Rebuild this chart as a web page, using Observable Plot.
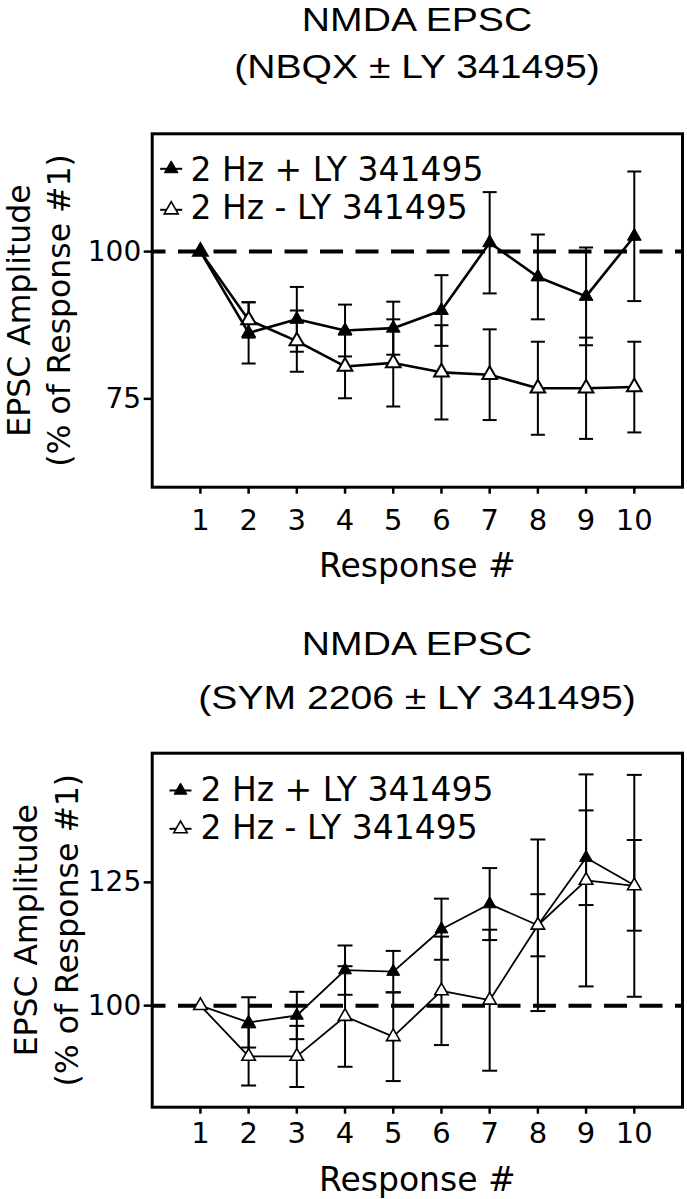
<!DOCTYPE html>
<html><head><meta charset="utf-8">
<script src="https://cdn.jsdelivr.net/npm/d3@7"></script>
<script src="https://cdn.jsdelivr.net/npm/@observablehq/plot@0.6"></script>
<style>
body{margin:0;background:#fff;}
#root{position:relative;width:687px;height:1199px;overflow:hidden;font-family:"DejaVu Sans",sans-serif;color:#000;background:#fff}
.title{position:absolute;left:152px;width:530px;text-align:center;font-family:"Liberation Sans",Arial,sans-serif;font-size:34px;line-height:30px;height:30px;white-space:nowrap;transform:scaleX(1.15);transform-origin:50% 50%}
.panel{position:absolute;left:0}
</style></head><body><div id="root"></div>
<script>
// ---- data ----
const responses = [1, 2, 3, 4, 5, 6, 7, 8, 9, 10];
const seriesWith = "2 Hz + LY 341495";
const seriesWithout = "2 Hz - LY 341495";
const xLabel = "Response #";
const yLabel = "EPSC Amplitude\n(% of Response #1)";

// Panel A: NMDA EPSC (NBQX ± LY 341495)
const titleA = ["NMDA EPSC", "(NBQX \u00B1 LY 341495)"];
const nbqxWithMean    = [100, 86.2, 88.5, 86.6, 87.0, 90.0, 101.5, 95.7, 92.4, 102.6];
const nbqxWithSem     = [0, 5.2, 5.5, 4.4, 4.5, 6.0, 8.6, 7.2, 8.3, 11.0];
const nbqxWithoutMean = [100, 88.4, 84.8, 80.5, 81.1, 79.5, 79.1, 76.8, 76.8, 77.0];
const nbqxWithoutSem  = [0, 3.0, 5.2, 5.4, 7.4, 8.0, 7.7, 7.9, 8.6, 7.7];
const yTicksA = [75, 100];

// Panel B: NMDA EPSC (SYM 2206 ± LY 341495)
const titleB = ["NMDA EPSC", "(SYM 2206 \u00B1 LY 341495)"];
const symWithMean    = [100, 96.6, 98.0, 107.2, 106.9, 115.5, 120.6, 116.3, 130.0, 124.4];
const symWithSem     = [0, 5.1, 4.8, 5.0, 4.2, 6.2, 7.3, 6.3, 9.6, 9.2];
const symWithoutMean = [100, 89.7, 89.7, 97.8, 93.7, 103.0, 101.1, 116.3, 125.4, 124.3];
const symWithoutSem  = [0, 5.9, 6.2, 10.2, 9.0, 11.0, 14.3, 17.4, 21.5, 22.5];
const yTicksB = [100, 125];
const baseline = [100];

// ---- helpers ----
const rows = (means, sems, series) => responses.map((r, i) => ({response: r, mean: means[i], sem: sems[i], series}));
const capSymbol = (half) => ({draw(ctx) { ctx.moveTo(-half, 0); ctx.lineTo(half, 0); }});
const FONT = "DejaVu Sans";

function panel(cfg) {
  const {width, height, marginTop, marginBottom, yDomain, yTicks, series, lineW, errW, capHalf,
         tickPad, xLabelDy, yLabelDx, yLabelLH, legend} = cfg;
  const marks = [];
  marks.push(Plot.ruleY(baseline, {stroke: "#000", strokeWidth: 4, strokeDasharray: "23,12.5", strokeDashoffset: 9.2}));
  for (const s of series) {
    const d = s.data.filter(r => r.sem > 0);
    marks.push(Plot.ruleX(d, {x: "response", y1: r => r.mean - r.sem, y2: r => r.mean + r.sem, stroke: "#000", strokeWidth: errW}));
    marks.push(Plot.dot(d, {x: "response", y: r => r.mean + r.sem, symbol: capSymbol(capHalf), stroke: "#000", strokeWidth: errW, fill: "none"}));
    marks.push(Plot.dot(d, {x: "response", y: r => r.mean - r.sem, symbol: capSymbol(capHalf), stroke: "#000", strokeWidth: errW, fill: "none"}));
  }
  for (const s of series) {
    marks.push(Plot.line(s.data, {x: "response", y: "mean", stroke: "#000", strokeWidth: lineW}));
    marks.push(Plot.dot(s.data, {x: "response", y: "mean", symbol: "triangle", r: s.r, fill: s.fill, stroke: "#000", strokeWidth: s.sw}));
  }
  // legend (inside the frame, top-left)
  for (const L of legend) {
    marks.push(Plot.dot([L.name], {frameAnchor: "top-left", dx: L.sx, dy: L.sy, symbol: capSymbol(11), stroke: "#000", strokeWidth: 2, fill: "none"}));
    marks.push(Plot.dot([L.name], {frameAnchor: "top-left", dx: L.sx, dy: L.sy, symbol: "triangle", r: L.r, fill: L.fill, stroke: "#000", strokeWidth: L.sw}));
    marks.push(Plot.text([L.name], {frameAnchor: "top-left", dx: L.tx, dy: L.ty, text: d => d, textAnchor: "start", lineAnchor: "bottom", fontSize: 33, fill: "#000"}));
  }
  marks.push(Plot.frame({stroke: "#000", strokeWidth: 3}));
  marks.push(Plot.axisX({ticks: responses, tickSize: 7, tickPadding: tickPad, fontSize: 29, strokeWidth: 2.5, label: null, tickFormat: d => String(d)}));
  marks.push(Plot.axisY({ticks: yTicks, tickSize: 8, tickPadding: 3, fontSize: 28, strokeWidth: 2.5, label: null, tickFormat: d => String(d)}));
  marks.push(Plot.text([xLabel], {frameAnchor: "bottom", dy: xLabelDy, text: d => d, textAnchor: "middle", lineAnchor: "bottom", fontSize: 33, fill: "#000"}));
  marks.push(Plot.text([yLabel], {frameAnchor: "left", dx: yLabelDx, rotate: -90, text: d => d, textAnchor: "middle", lineAnchor: "top", lineHeight: yLabelLH, fontSize: 31.5, fill: "#000"}));
  return Plot.plot({
    width, height, marginTop, marginBottom, marginLeft: 151.7, marginRight: 5,
    x: {domain: [0, 11]},
    y: {domain: yDomain},
    style: {fontFamily: FONT, background: "transparent", color: "#000", overflow: "visible"},
    marks
  });
}

const root = document.getElementById("root");
function addTitle(lines, tops) {
  lines.forEach((t, i) => {
    const div = document.createElement("div");
    div.className = "title";
    div.style.top = tops[i] + "px";
    div.textContent = t;
    root.appendChild(div);
  });
}
function addPanel(svg, top) {
  svg.classList.add("panel");
  svg.style.top = top + "px";
  svg.style.position = "absolute";
  root.appendChild(svg);
}

addTitle(titleA, [4.2, 51.2]);
addPanel(panel({
  width: 687, height: 500, marginTop: 33.3, marginBottom: 113.3,
  yDomain: [60, 120], yTicks: yTicksA,
  series: [
    {data: rows(nbqxWithoutMean, nbqxWithoutSem, seriesWithout), fill: "#fff", r: 5.45, sw: 2},
    {data: rows(nbqxWithMean, nbqxWithSem, seriesWith), fill: "#000", r: 5.1, sw: 1}
  ],
  lineW: 2.6, errW: 2, capHalf: 7,
  tickPad: 15, xLabelDy: 90, yLabelDx: -150.4, yLabelLH: 1.27,
  legend: [
    {name: seriesWith, sx: 19, sy: 35, tx: 38.3, ty: 46.7, fill: "#000", r: 5.1, sw: 1},
    {name: seriesWithout, sx: 19, sy: 76, tx: 38.3, ty: 85, fill: "#fff", r: 5.2, sw: 1.6}
  ]
}), 100);

addTitle(titleB, [628.2, 681.7]);
addPanel(panel({
  width: 687, height: 479, marginTop: 32.7, marginBottom: 92.3,
  yDomain: [79.4, 151.2], yTicks: yTicksB,
  series: [
    {data: rows(symWithMean, symWithSem, seriesWith), fill: "#000", r: 4.8, sw: 1},
    {data: rows(symWithoutMean, symWithoutSem, seriesWithout), fill: "#fff", r: 5.0, sw: 1.6}
  ],
  lineW: 1.8, errW: 2, capHalf: 7.5,
  tickPad: 8.4, xLabelDy: 83.3, yLabelDx: -145, yLabelLH: 1.32,
  legend: [
    {name: seriesWith, sx: 28.3, sy: 37.3, tx: 48.3, ty: 47.3, fill: "#000", r: 4.8, sw: 1},
    {name: seriesWithout, sx: 28.3, sy: 75.6, tx: 48.3, ty: 85.6, fill: "#fff", r: 5.0, sw: 1.6}
  ]
}), 720);
</script>
</body></html>
